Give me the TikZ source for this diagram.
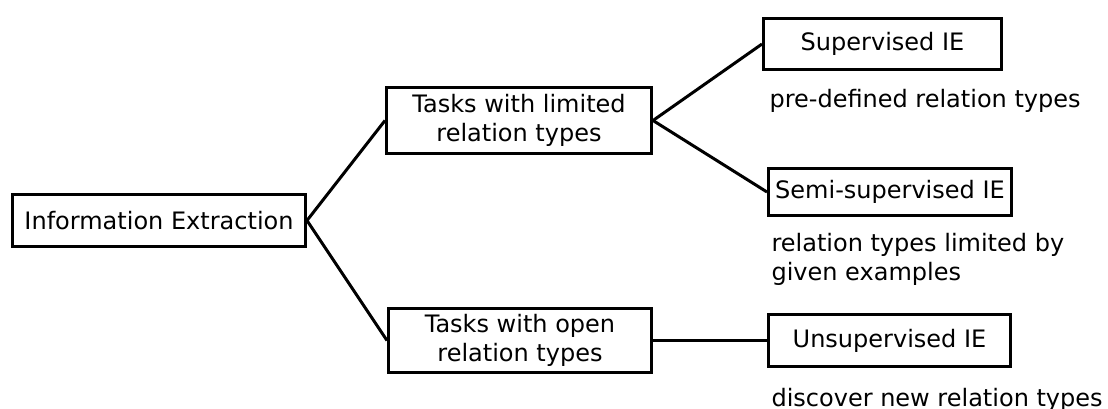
\documentclass[tikz,border=0pt]{standalone}
\usepackage{fontspec}
\setmainfont{DejaVu Sans}

\begin{document}
\begin{tikzpicture}[x=0.5pt, y=-0.5pt, line width=1.5pt,
        font=\fontsize{12}{14.5}\selectfont,
        box/.style={draw, align=center, inner sep=2pt},
        note/.style={anchor=north west, align=left, inner sep=0pt}]
        \useasboundingbox (0,0) rectangle (1108,408);

        \node[box, minimum width=146.5pt, minimum height=26pt] (ie) at (159,220.5) {Information Extraction};
        \node[box, minimum width=132.5pt, minimum height=33pt] (limited) at (519,120.5) {Tasks with limited\\relation types};
        \node[box, minimum width=131.5pt, minimum height=32pt] (open) at (520,340.5) {Tasks with open\\relation types};

        \node[box, minimum width=119pt, minimum height=25.5pt] (sup) at (882.5,44) {Supervised IE};
        \node[box, minimum width=121.5pt, minimum height=23.5pt] (semi) at (890,192) {Semi-supervised IE};
        \node[box, minimum width=121pt, minimum height=26pt] (unsup) at (889.5,340.5) {Unsupervised IE};

        \node[note] (supnote) at (768,88) {pre-defined relation types};
        \node[note] (seminote) at (770,232) {relation types limited by\\given examples};
        \node[note] (unsupnote) at (770,387) {discover new relation types};

        \draw (ie.east) -- (limited.west);
        \draw (ie.east) -- (open.west);
        \draw (limited.east) -- (sup.west);
        \draw (limited.east) -- (semi.west);
        \draw (open.east) -- (unsup.west);
    \end{tikzpicture}
\end{document}
